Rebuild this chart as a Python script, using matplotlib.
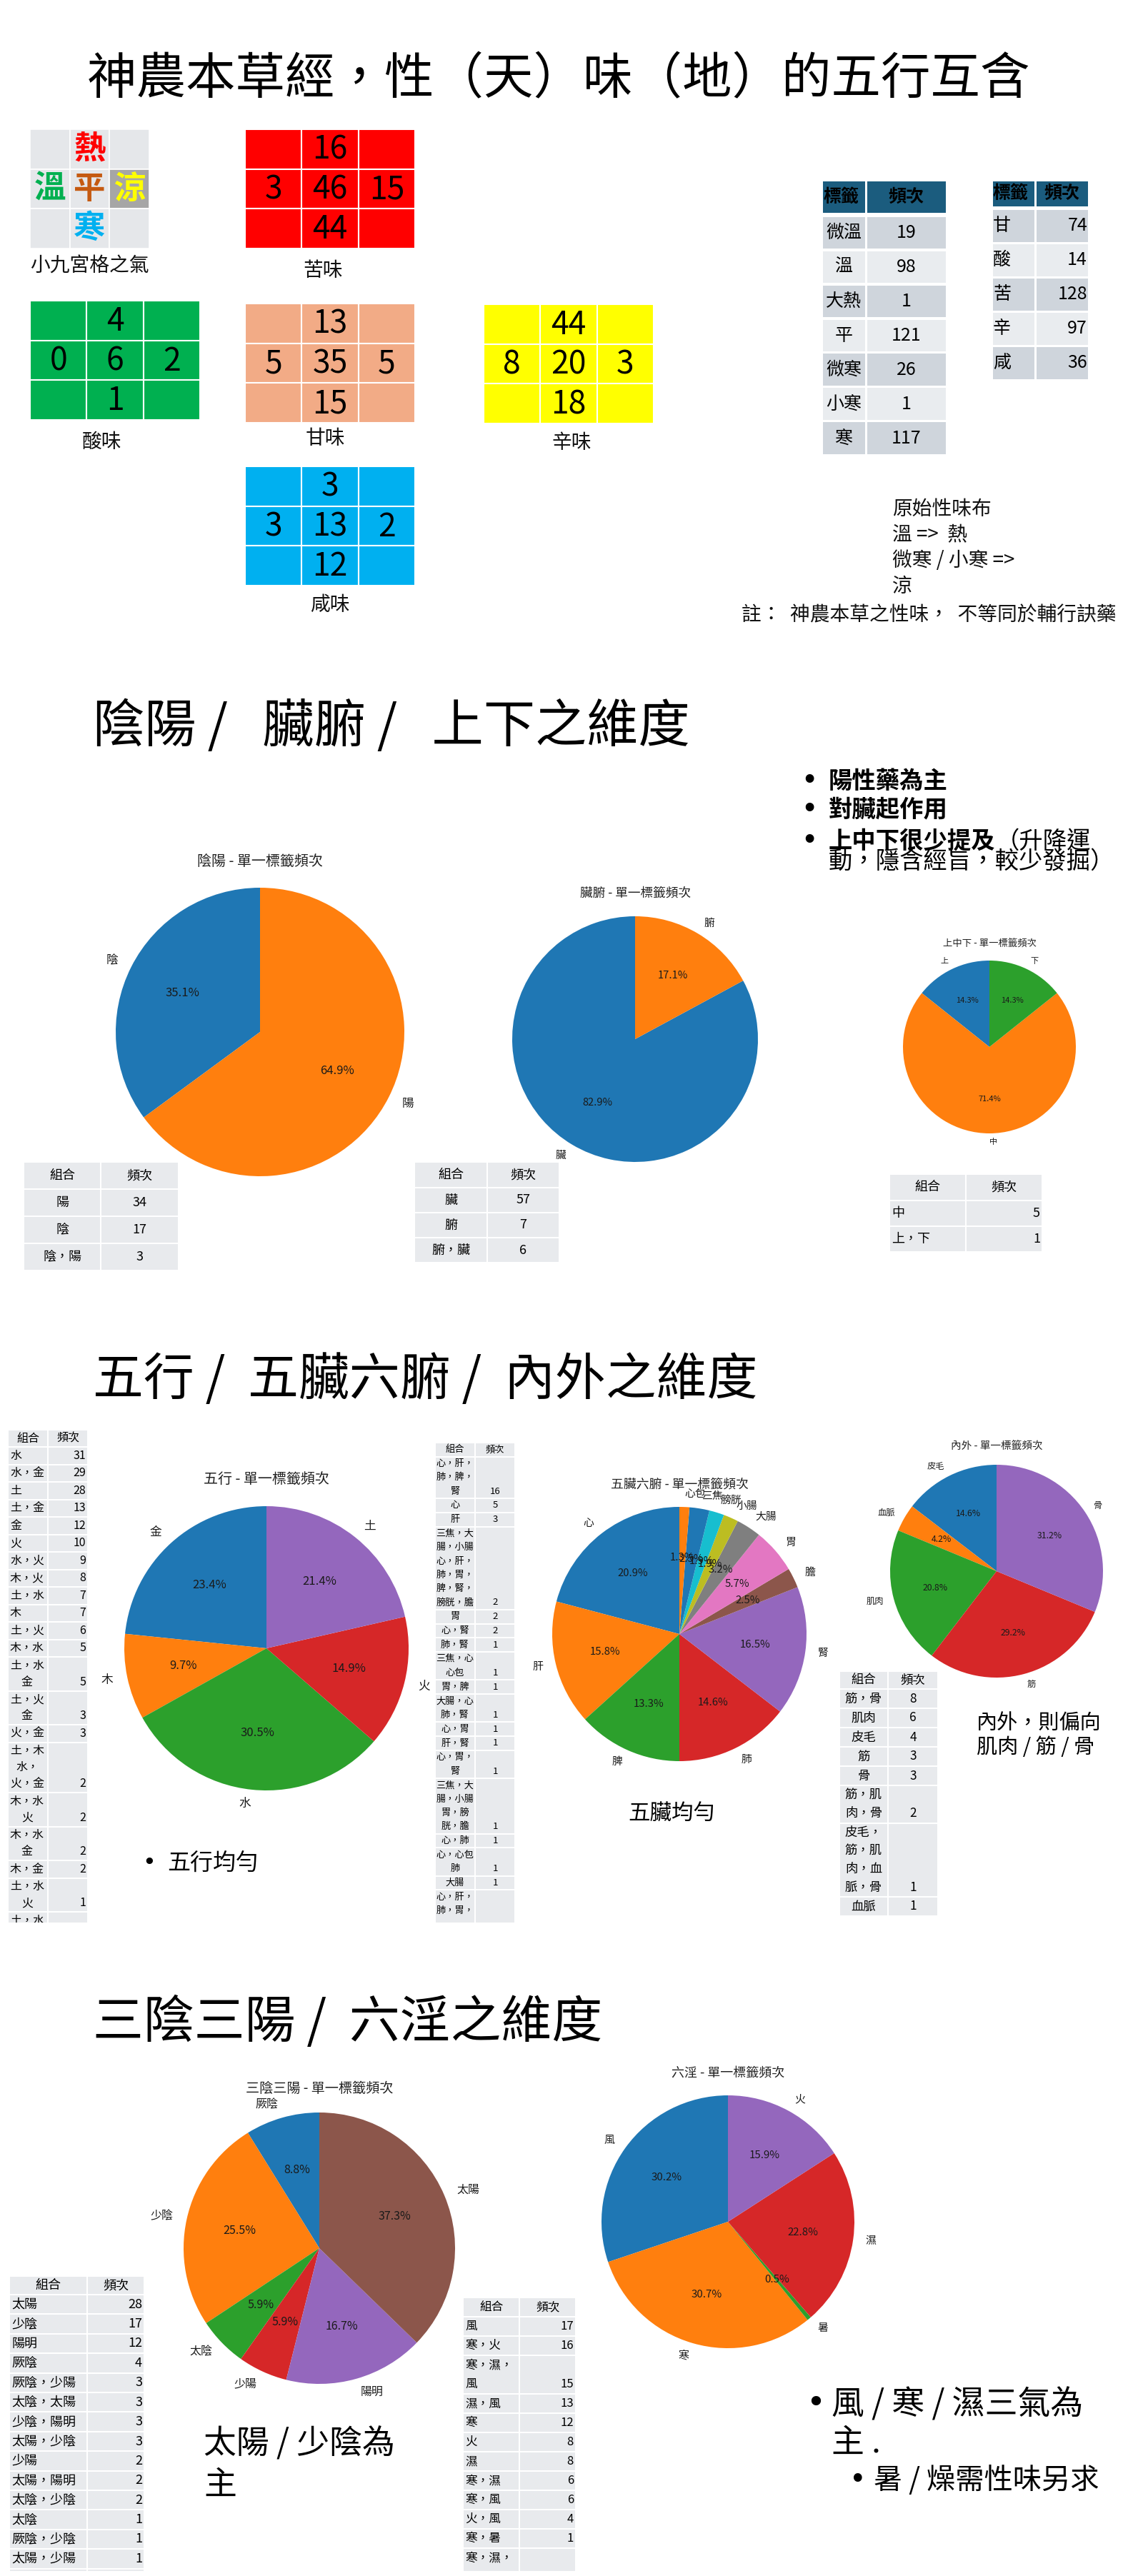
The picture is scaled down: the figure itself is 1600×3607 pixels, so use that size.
import matplotlib
matplotlib.use('Agg')
import matplotlib.pyplot as plt
from matplotlib.patches import Rectangle

plt.rcParams['font.family'] = ['Noto Sans CJK TC', 'DejaVu Sans']

# ---------------- data ----------------
main_title = '神農本草經，性（天）味（地）的五行互含'
sec2_title = '陰陽 /   臟腑 /   上下之維度'
sec3_title = '五行 /  五臟六腑 /  內外之維度'
sec4_title = '三陰三陽 /  六淫之維度'

# nine-grid of qi: top, left, center, right, bottom
nine_chars = ['熱', '溫', '平', '涼', '寒']
nine_colors = ['#ff0000', '#00b050', '#c55a11', '#ffff00', '#00b0f0']

flavor_names = ['苦味', '酸味', '甘味', '辛味', '咸味']
flavor_colors = ['#ff0000', '#00b050', '#f2ab86', '#ffff00', '#00b0f0']
flavor_top = [16, 4, 13, 44, 3]
flavor_left = [3, 0, 5, 8, 3]
flavor_center = [46, 6, 35, 20, 13]
flavor_right = [15, 2, 5, 3, 2]
flavor_bottom = [44, 1, 15, 18, 12]

nature_labels = ['微溫', '溫', '大熱', '平', '微寒', '小寒', '寒']
nature_counts = [19, 98, 1, 121, 26, 1, 117]
taste_labels = ['甘', '酸', '苦', '辛', '咸']
taste_counts = [74, 14, 128, 97, 36]

note_text = '原始性味布\n溫 =>  熱\n微寒 / 小寒 =>\n涼'
note2_text = '註：  神農本草之性味，  不等同於輔行訣藥'

yy_labels = ['陰', '陽']
yy_counts = [20, 37]
zf_labels = ['臟', '腑']
zf_counts = [63, 13]
sx_labels = ['上', '中', '下']
sx_counts = [1, 5, 1]

yy_tab_labels = ['陽', '陰', '陰，陽']
yy_tab_counts = [34, 17, 3]
zf_tab_labels = ['臟', '腑', '腑，臟']
zf_tab_counts = [57, 7, 6]
sx_tab_labels = ['中', '上，下']
sx_tab_counts = [5, 1]

wx_labels = ['金', '木', '水', '火', '土']
wx_counts = [36, 15, 47, 23, 33]
zang_labels = ['心', '肝', '脾', '肺', '腎', '膽', '胃', '大腸', '小腸', '膀胱', '三焦', '心包']
zang_counts = [33, 25, 21, 23, 26, 4, 9, 5, 3, 3, 4, 2]
nw_labels = ['皮毛', '血脈', '肌肉', '筋', '骨']
nw_counts = [7, 2, 10, 14, 15]

wx_tab_labels = ['水', '水，金', '土', '土，金', '金', '火', '水，火', '木，火', '土，水', '木',
                 '土，火', '木，水', '土，水\n金', '土，火\n金', '火，金', '土，木\n水，\n火，金',
                 '木，水\n火', '木，水\n金', '木，金', '土，水\n火', '土，水\n']
wx_tab_counts = [31, 29, 28, 13, 12, 10, 9, 8, 7, 7, 6, 5, 5, 3, 3, 2, 2, 2, 2, 1, '']
zang_tab_labels = ['心，肝，\n肺，脾，\n腎', '心', '肝',
                   '三焦，大\n腸，小腸\n心，肝，\n肺，胃，\n脾，腎，\n膀胱，膽',
                   '胃', '心，腎', '肺，腎', '三焦，心\n心包', '胃，脾', '大腸，心\n肺，腎',
                   '心，胃', '肝，腎', '心，胃，\n腎', '三焦，大\n腸，小腸\n胃，膀\n胱，膽',
                   '心，肺', '心，心包\n肺', '大腸', '心，肝，\n肺，胃，\n']
zang_tab_counts = [16, 5, 3, 2, 2, 2, 1, 1, 1, 1, 1, 1, 1, 1, 1, 1, 1, '']
nw_tab_labels = ['筋，骨', '肌肉', '皮毛', '筋', '骨', '筋，肌\n肉，骨',
                 '皮毛，\n筋，肌\n肉，血\n脈，骨', '血脈']
nw_tab_counts = [8, 6, 4, 3, 3, 2, 1, 1]

sy_labels = ['厥陰', '少陰', '太陰', '少陽', '陽明', '太陽']
sy_counts = [9, 26, 6, 6, 17, 38]
ly_labels = ['風', '寒', '暑', '濕', '火']
ly_counts = [57, 58, 1, 43, 30]

sy_tab_labels = ['太陽', '少陰', '陽明', '厥陰', '厥陰，少陽', '太陰，太陽', '少陰，陽明',
                 '太陽，少陰', '少陽', '太陽，陽明', '太陰，少陰', '太陰', '厥陰，少陰',
                 '太陽，少陽', '']
sy_tab_counts = [28, 17, 12, 4, 3, 3, 3, 3, 2, 2, 2, 1, 1, 1, '']
ly_tab_labels = ['風', '寒，火', '寒，濕，\n風', '濕，風', '寒', '火', '濕', '寒，濕',
                 '寒，風', '火，風', '寒，暑', '寒，濕，\n']
ly_tab_counts = [17, 16, 15, 13, 12, 8, 8, 6, 6, 4, 1, '']

# ---------------- figure ----------------
W, H = 1600, 3607
fig = plt.figure(figsize=(W / 100, H / 100), dpi=100)
fig.patch.set_facecolor('white')
bg = fig.add_axes([0, 0, 1, 1], zorder=0)
bg.set_xlim(0, W)
bg.set_ylim(H, 0)
bg.axis('off')


def axes_px(x, y, w, h, z=1):
    return fig.add_axes([x / W, 1 - (y + h) / H, w / W, h / H], zorder=z)


TXT = '#111111'
BUL = ['DejaVu Sans']

# titles
bg.text(122, 112, main_title, fontsize=50, ha='left', va='center', color='black')
bg.text(130, 1018, sec2_title, fontsize=52, ha='left', va='center', color='black')
bg.text(130, 1932, sec3_title, fontsize=51, ha='left', va='center', color='black')
bg.text(130, 2832, sec4_title, fontsize=51, ha='left', va='center', color='black')

# ---------- nine grid of qi ----------
grid_pos = [(1, 0), (0, 1), (1, 1), (2, 1), (1, 2)]
ax = axes_px(42, 181, 167, 167, z=2)
ax.set_xlim(0, 3)
ax.set_ylim(3, 0)
ax.axis('off')
for i in range(3):
    for j in range(3):
        fc = '#a6a6a6' if (i, j) == (2, 1) else '#e5e7ea'
        ax.add_patch(Rectangle((i, j), 1, 1, facecolor=fc, edgecolor='white', linewidth=1.2))
for ch, col, (i, j) in zip(nine_chars, nine_colors, grid_pos):
    ax.text(i + 0.5, j + 0.5, ch, color=col, fontsize=32, fontweight='bold',
            ha='center', va='center')
bg.text(42, 373, '小九宮格之氣', fontsize=20, ha='left', va='center', color=TXT)

flavor_boxes = [(343, 181), (42, 421), (343, 425), (677, 426), (343, 653)]
flavor_label_xy = [(452, 379), (142, 619), (455, 614), (800, 620), (462, 847)]
for k in range(5):
    bx, by = flavor_boxes[k]
    ax = axes_px(bx, by, 238, 167, z=2)
    ax.set_xlim(0, 3)
    ax.set_ylim(3, 0)
    ax.axis('off')
    for i in range(3):
        for j in range(3):
            ax.add_patch(Rectangle((i, j), 1, 1, facecolor=flavor_colors[k],
                                   edgecolor='white', linewidth=1.5))
    vals = [flavor_top[k], flavor_left[k], flavor_center[k], flavor_right[k], flavor_bottom[k]]
    for v, (i, j) in zip(vals, grid_pos):
        ax.text(i + 0.5, j + 0.52, str(v), fontsize=32, ha='center', va='center', color='black')
    lx, ly = flavor_label_xy[k]
    bg.text(lx, ly, flavor_names[k], fontsize=20, ha='center', va='center', color=TXT)


# ---------- table helper ----------
def draw_table(x, y, widths, head_h, line_h, extra, labels, counts, fs,
               clip_bottom=None, header=('組合', '頻次'), lab_ha='left', lab_ma='left',
               val_ha='right', head_fc='#e8eaed', row_fc=('#e8eaed',), head_weight='normal',
               head_ha=('center', 'center'), pad=3, gap=2, head_gap=None):
    total_w = sum(widths)
    nl = [len(str(l).split('\n')) for l in labels]
    hg = gap if head_gap is None else head_gap
    full_h = head_h + hg - gap + sum(n * line_h + extra for n in nl)
    vis_h = full_h if clip_bottom is None else min(full_h, clip_bottom - y)
    ax = axes_px(x, y, total_w, vis_h, z=3)
    ax.set_xlim(0, total_w)
    ax.set_ylim(vis_h, 0)
    ax.axis('off')
    em = fs * 100 / 72
    xs = [0, widths[0]]

    def cell(x0, y0, w, h, fc):
        ax.add_patch(Rectangle((x0 + gap / 2, y0 + gap / 2), w - gap, h - gap,
                               facecolor=fc, edgecolor='none'))

    def put(x0, w, yc, s, ha, weight='normal'):
        if ha == 'left':
            xx = x0 + pad
        elif ha == 'center':
            xx = x0 + w / 2
        else:
            xx = x0 + w - pad
        ax.text(xx, yc, s, ha=ha, va='center', fontsize=fs, fontweight=weight,
                color='black', clip_on=True)

    for j in range(2):
        cell(xs[j], 0, widths[j], head_h, head_fc)
        put(xs[j], widths[j], head_h / 2, header[j], head_ha[j], head_weight)
    y0 = head_h + hg - gap
    for r, (lab, cnt) in enumerate(zip(labels, counts)):
        lines = str(lab).split('\n')
        h = len(lines) * line_h + extra
        fc = row_fc[r % len(row_fc)]
        cell(xs[0], y0, widths[0], h, fc)
        cell(xs[1], y0, widths[1], h, fc)
        if lab_ha == 'left' and lab_ma == 'center':
            bw = max(len(l) for l in lines) * em
            for i, l in enumerate(lines):
                ax.text(pad + bw / 2, y0 + extra / 2 + (i + 0.5) * line_h, l, ha='center',
                        va='center', fontsize=fs, color='black', clip_on=True)
        else:
            for i, l in enumerate(lines):
                put(xs[0], widths[0], y0 + extra / 2 + (i + 0.5) * line_h, l, lab_ha)
        put(xs[1], widths[1], y0 + extra / 2 + (len(lines) - 0.5) * line_h, str(cnt), val_ha)
        y0 += h


# ---------- section 1 tables ----------
draw_table(1150, 252, [62, 113], 48, 45, 3, nature_labels, nature_counts, 18,
           header=('標籤', '頻次'), lab_ha='center', val_ha='center', head_fc='#1b5c7e',
           row_fc=('#cfd5dc', '#e9ecef'), head_weight='bold', head_ha=('left', 'center'),
           gap=3, head_gap=5)
draw_table(1388, 252, [61, 75], 38, 45, 3, taste_labels, taste_counts, 18,
           header=('標籤', '頻次'), lab_ha='left', val_ha='right', head_fc='#1b5c7e',
           row_fc=('#cfd5dc', '#e9ecef'), head_weight='bold', head_ha=('left', 'center'),
           gap=3, head_gap=5, pad=2)

bg.text(1249, 767, note_text, fontsize=20, ha='left', va='center', color=TXT, linespacing=1.25)
bg.text(1038, 861, note2_text, fontsize=20, ha='left', va='center', color=TXT)


# ---------- pies ----------
def draw_pie(cx, cy, r, labels, counts, title, title_y, s):
    ax = axes_px(cx - r, cy - r, 2 * r, 2 * r, z=2)
    ax.pie(counts, labels=labels, autopct='%1.1f%%', startangle=90,
           textprops={'fontsize': 10 * s, 'color': '#1a1a1a'})
    ax.set_xlim(-1, 1)
    ax.set_ylim(-1, 1)
    bg.text(cx, title_y, title, ha='center', va='center', fontsize=12 * s, color='#222222')


draw_pie(364, 1445, 202, yy_labels, yy_counts, '陰陽 - 單一標籤頻次', 1207, 1.2)
draw_pie(889, 1455, 172, zf_labels, zf_counts, '臟腑 - 單一標籤頻次', 1251, 1.06)
draw_pie(1385, 1466, 121, sx_labels, sx_counts, '上中下 - 單一標籤頻次', 1322, 0.8)

draw_table(33, 1627, [108, 109], 38, 38, 0, yy_tab_labels, yy_tab_counts, 13,
           lab_ha='center', val_ha='center')
draw_table(580, 1627, [102, 101], 36, 35, 0, zf_tab_labels, zf_tab_counts, 13,
           lab_ha='center', val_ha='center')
draw_table(1245, 1644, [107, 107], 37, 36, 0, sx_tab_labels, sx_tab_counts, 13,
           lab_ha='left', val_ha='right')

# bullets section 2
bfs = 24
for yb in (1094, 1134, 1178):
    bg.text(1133, yb, '•', fontsize=bfs, ha='center', va='center', color='black',
            family=BUL, fontweight='bold')
bg.text(1160, 1094, '陽性藥為主', fontsize=bfs, fontweight='bold', ha='left', va='center')
bg.text(1160, 1134, '對臟起作用', fontsize=bfs, fontweight='bold', ha='left', va='center')
tb = bg.text(1160, 1178, '上中下很少提及', fontsize=bfs, fontweight='bold', ha='left', va='center')
renderer = fig.canvas.get_renderer()
xend = tb.get_window_extent(renderer=renderer).x1
bg.text(xend, 1178, '（升降運', fontsize=bfs, ha='left', va='center')
bg.text(1160, 1206, '動，隱含經旨，較少發掘）', fontsize=bfs, ha='left', va='center')

# ---------- section 3 ----------
draw_pie(373, 2308, 199, wx_labels, wx_counts, '五行 - 單一標籤頻次', 2072, 1.2)
draw_pie(951, 2288, 178, zang_labels, zang_counts, '五臟六腑 - 單一標籤頻次', 2079, 1.07)
draw_pie(1395, 2200, 149, nw_labels, nw_counts, '內外 - 單一標籤頻次', 2025, 0.88)

draw_table(11, 2002, [56, 56], 24, 23, 1.5, wx_tab_labels, wx_tab_counts, 11.5,
           clip_bottom=2692, lab_ha='left', lab_ma='center', val_ha='right', gap=2)
draw_table(609, 2020, [56, 56], 19.5, 19.3, 0.5, zang_tab_labels, zang_tab_counts, 9.5,
           clip_bottom=2692, lab_ha='center', val_ha='center', gap=2)
draw_table(1175, 2340, [68, 70], 25, 25.5, 1.5, nw_tab_labels, nw_tab_counts, 12.5,
           clip_bottom=2692, lab_ha='center', val_ha='center', gap=2)

bg.text(209, 2609, '•', fontsize=23, ha='center', va='center', family=BUL)
bg.text(234, 2609, '五行均勻', fontsize=23, ha='left', va='center')
bg.text(940, 2540, '五臟均勻', fontsize=22, ha='center', va='center')
bg.text(1367, 2430, '內外，則偏向\n肌肉 / 筋 / 骨', fontsize=21, ha='left', va='center',
        linespacing=1.2)

# ---------- section 4 ----------
draw_pie(447, 3148, 190, sy_labels, sy_counts, '三陰三陽 - 單一標籤頻次', 2924, 1.15)
draw_pie(1019, 3111, 177, ly_labels, ly_counts, '六淫 - 單一標籤頻次', 2903, 1.08)

draw_table(13, 3187, [109, 80], 26, 27.4, 0, sy_tab_labels, sy_tab_counts, 13,
           clip_bottom=3600, lab_ha='left', val_ha='right', gap=2)
draw_table(648, 3217, [79, 79], 27, 27, 0, ly_tab_labels, ly_tab_counts, 12,
           clip_bottom=3600, lab_ha='left', val_ha='right', gap=2)

bg.text(285, 3451, '太陽 / 少陰為\n主', fontsize=33, ha='left', va='center', linespacing=1.25)
bg.text(1142, 3367, '•', fontsize=33, ha='center', va='center', family=BUL)
bg.text(1164, 3394, '風 / 寒 / 濕三氣為\n主 .', fontsize=33, ha='left', va='center',
        linespacing=1.15)
bg.text(1201, 3473, '•', fontsize=29, ha='center', va='center', family=BUL)
bg.text(1223, 3473, '暑 / 燥需性味另求', fontsize=29, ha='left', va='center')

fig.savefig('out.png', dpi=100, facecolor='white')
